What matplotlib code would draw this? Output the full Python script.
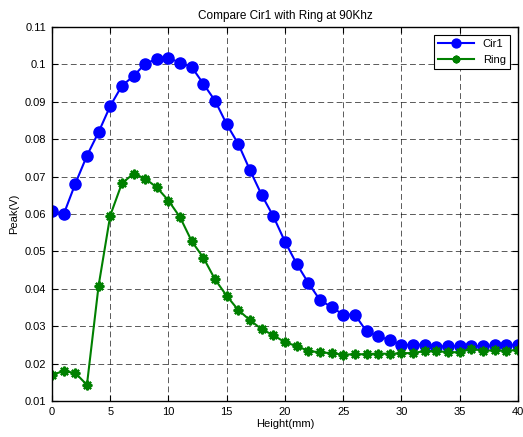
import numpy as np
import matplotlib.pyplot as plt

plt.rcParams['font.family'] = ['Liberation Sans', 'DejaVu Sans']

height_mm = np.arange(0, 41)
cir1_peak = [0.0609, 0.0599, 0.0681, 0.0756, 0.0819, 0.0889, 0.0943, 0.0969, 0.1002, 0.1015,
             0.1017, 0.1005, 0.0993, 0.0948, 0.0903, 0.0840, 0.0787, 0.0717, 0.0651, 0.0594,
             0.0526, 0.0467, 0.0416, 0.0370, 0.0351, 0.0331, 0.0331, 0.0286, 0.0273, 0.0263,
             0.0250, 0.0250, 0.0251, 0.0245, 0.0247, 0.0247, 0.0248, 0.0246, 0.0249, 0.0249,
             0.0251]
ring_peak = [0.0170, 0.0180, 0.0175, 0.0143, 0.0408, 0.0596, 0.0682, 0.0708, 0.0695, 0.0671,
             0.0636, 0.0591, 0.0527, 0.0483, 0.0425, 0.0381, 0.0343, 0.0316, 0.0292, 0.0276,
             0.0257, 0.0247, 0.0234, 0.0230, 0.0228, 0.0224, 0.0225, 0.0225, 0.0227, 0.0226,
             0.0228, 0.0228, 0.0234, 0.0233, 0.0231, 0.0230, 0.0240, 0.0234, 0.0236, 0.0234,
             0.0237]

fig = plt.figure(figsize=(5.23, 4.37), dpi=100)
ax = fig.add_axes([0.0994, 0.0824, 0.8910, 0.8556])

ax.plot(height_mm, cir1_peak, color='#0000ff', marker='o', markersize=8,
        linewidth=1.5, label='Cir1')
ax.plot(height_mm, ring_peak, color='#008000', marker=(8, 2, 0), markersize=7,
        markeredgewidth=1.6, linewidth=1.5, label='Ring')

ax.set_xlim(0, 40)
ax.set_ylim(0.01, 0.11)
ax.set_xticks(np.arange(0, 41, 5))
ax.set_yticks(np.arange(0.01, 0.111, 0.01))
ax.set_yticklabels(['0.01', '0.02', '0.03', '0.04', '0.05', '0.06', '0.07', '0.08', '0.09', '0.1', '0.11'])
ax.tick_params(direction='in', labelsize=8, length=4, top=True, right=True, pad=4)
ax.grid(True, color='black', linestyle=(0, (7, 4)), linewidth=0.6, alpha=0.75)
for s in ax.spines.values():
    s.set_linewidth(1.0)

ax.set_xlabel('Height(mm)', fontsize=8, labelpad=2)
ax.set_ylabel('Peak(V)', fontsize=8, labelpad=4)
ax.set_title('Compare Cir1 with Ring at 90Khz', fontsize=8.5, pad=6)

leg = ax.legend(loc='upper right', fontsize=8, fancybox=False, edgecolor='black',
                framealpha=1, borderaxespad=0.7, handlelength=3.2, markerscale=0.8)
leg.get_frame().set_linewidth(0.8)

fig.savefig('out.png')
